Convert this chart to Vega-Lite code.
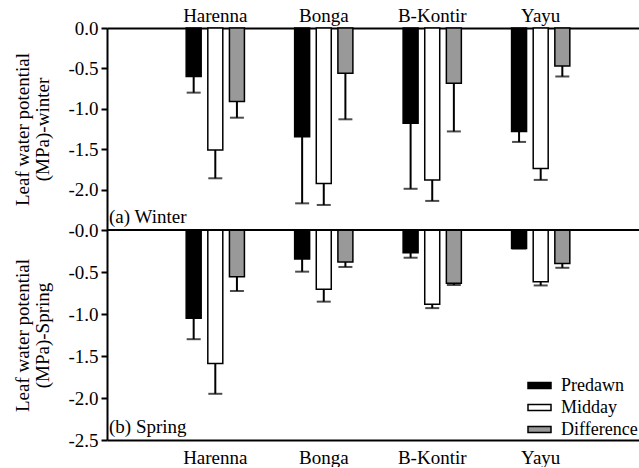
{
  "$schema": "https://vega.github.io/schema/vega-lite/v6.json",
  "padding": {"left": 13, "top": 6, "right": 0, "bottom": 0},
  "bounds": "flush",
  "spacing": 0,
  "config": {
    "font": "Liberation Serif, Times New Roman, serif",
    "view": {"stroke": null},
    "text": {"font": "Liberation Serif, Times New Roman, serif"},
    "axis": {
      "labelFont": "Liberation Serif, Times New Roman, serif", "labelFontSize": 19, "labelColor": "black",
      "titleFont": "Liberation Serif, Times New Roman, serif", "titleFontSize": 19, "titleFontWeight": "normal", "titleColor": "black",
      "domainColor": "black", "domainWidth": 2, "tickColor": "black", "tickWidth": 2, "tickSize": 6, "grid": false
    },
    "legend": {
      "labelFont": "Liberation Serif, Times New Roman, serif", "labelFontSize": 18, "labelColor": "black"
    }
  },
  "datasets": {
    "winter": [
      {"site": "Harenna", "type": "Predawn", "value": -0.60, "low": -0.80},
      {"site": "Harenna", "type": "Midday", "value": -1.51, "low": -1.86},
      {"site": "Harenna", "type": "Difference", "value": -0.91, "low": -1.11},
      {"site": "Bonga", "type": "Predawn", "value": -1.345, "low": -2.17},
      {"site": "Bonga", "type": "Midday", "value": -1.925, "low": -2.19},
      {"site": "Bonga", "type": "Difference", "value": -0.56, "low": -1.13},
      {"site": "B-Kontir", "type": "Predawn", "value": -1.18, "low": -1.99},
      {"site": "B-Kontir", "type": "Midday", "value": -1.88, "low": -2.14},
      {"site": "B-Kontir", "type": "Difference", "value": -0.685, "low": -1.28},
      {"site": "Yayu", "type": "Predawn", "value": -1.28, "low": -1.41},
      {"site": "Yayu", "type": "Midday", "value": -1.74, "low": -1.88},
      {"site": "Yayu", "type": "Difference", "value": -0.47, "low": -0.60}
    ],
    "spring": [
      {"site": "Harenna", "type": "Predawn", "value": -1.05, "low": -1.30},
      {"site": "Harenna", "type": "Midday", "value": -1.59, "low": -1.95},
      {"site": "Harenna", "type": "Difference", "value": -0.556, "low": -0.726},
      {"site": "Bonga", "type": "Predawn", "value": -0.345, "low": -0.496},
      {"site": "Bonga", "type": "Midday", "value": -0.706, "low": -0.853},
      {"site": "Bonga", "type": "Difference", "value": -0.38, "low": -0.44},
      {"site": "B-Kontir", "type": "Predawn", "value": -0.27, "low": -0.33},
      {"site": "B-Kontir", "type": "Midday", "value": -0.885, "low": -0.93},
      {"site": "B-Kontir", "type": "Difference", "value": -0.635, "low": -0.655},
      {"site": "Yayu", "type": "Predawn", "value": -0.22, "low": -0.22},
      {"site": "Yayu", "type": "Midday", "value": -0.615, "low": -0.66},
      {"site": "Yayu", "type": "Difference", "value": -0.40, "low": -0.45}
    ],
    "labels": [
      {"panel": "winter", "label": "(a) Winter"},
      {"panel": "spring", "label": "(b) Spring"}
    ]
  },
  "resolve": {"legend": {"fill": "independent"}},
  "vconcat": [
    {
      "width": 542,
      "height": 202,
      "layer": [
        {
          "data": {"name": "winter"},
          "encoding": {
            "x": {"field": "site", "type": "nominal", "sort": ["Harenna", "Bonga", "B-Kontir", "Yayu"],
                  "scale": {"paddingInner": 0.463, "paddingOuter": 0.73},
                  "axis": {"orient": "top", "title": null, "ticks": false, "labelAngle": 0, "labelPadding": 3}},
            "xOffset": {"field": "type", "type": "nominal", "sort": ["Predawn", "Midday", "Difference"],
                        "scale": {"paddingInner": 0.307, "paddingOuter": 0}}
          },
          "layer": [
            {
              "mark": {"type": "bar", "stroke": "black", "strokeWidth": 1.5},
              "encoding": {
                "y": {"field": "value", "type": "quantitative", "scale": {"domain": [-2.5, 0], "nice": false},
                      "axis": {"values": [0, -0.5, -1, -1.5, -2], "labelExpr": "datum.value == 0 ? '0.0' : '-' + format(-datum.value, '.1f')",
                               "title": ["Leaf water potential", "(MPa)-winter"], "titlePadding": 15, "labelPadding": 3, "titleLineHeight": 20}},
                "fill": {"field": "type", "type": "nominal", "scale": {"domain": ["Predawn", "Midday", "Difference"], "range": ["#000000", "#ffffff", "#999999"]}, "legend": null}
              }
            },
            {
              "mark": {"type": "rule", "strokeWidth": 2, "color": "black"},
              "encoding": {"y": {"field": "value", "type": "quantitative"}, "y2": {"field": "low"}}
            },
            {
              "mark": {"type": "tick", "orient": "horizontal", "size": 14, "thickness": 2, "color": "black"},
              "encoding": {"y": {"field": "low", "type": "quantitative"}}
            }
          ]
        },
        {
          "data": {"name": "labels"},
          "transform": [{"filter": "datum.panel == 'winter'"}],
          "mark": {"type": "text", "align": "left", "baseline": "bottom", "fontSize": 19, "dx": 2, "dy": -3, "color": "black"},
          "encoding": {
            "x": {"datum": 0, "type": "quantitative", "scale": {"domain": [0, 1]}, "axis": null},
            "y": {"datum": -2.5, "type": "quantitative"},
            "text": {"field": "label"}
          }
        }
      ],
      "resolve": {"scale": {"x": "independent"}}
    },
    {
      "width": 542,
      "height": 210,
      "layer": [
        {
          "data": {"name": "spring"},
          "encoding": {
            "x": {"field": "site", "type": "nominal", "sort": ["Harenna", "Bonga", "B-Kontir", "Yayu"],
                  "scale": {"paddingInner": 0.463, "paddingOuter": 0.73},
                  "axis": {"orient": "bottom", "title": null, "ticks": false, "labelAngle": 0, "labelPadding": 8}},
            "xOffset": {"field": "type", "type": "nominal", "sort": ["Predawn", "Midday", "Difference"],
                        "scale": {"paddingInner": 0.307, "paddingOuter": 0}}
          },
          "layer": [
            {
              "mark": {"type": "bar", "stroke": "black", "strokeWidth": 1.5},
              "encoding": {
                "y": {"field": "value", "type": "quantitative", "scale": {"domain": [-2.5, 0], "nice": false},
                      "axis": {"values": [0, -0.5, -1, -1.5, -2, -2.5], "labelExpr": "'-' + format(abs(datum.value), '.1f')",
                               "title": ["Leaf water potential", "(MPa)-Spring"], "titlePadding": 15, "labelPadding": 3, "titleLineHeight": 20}},
                "fill": {"field": "type", "type": "nominal", "scale": {"domain": ["Predawn", "Midday", "Difference"], "range": ["#000000", "#ffffff", "#999999"]},
                         "legend": {"orient": "none", "legendX": 420, "legendY": 143, "title": null,
                                    "symbolType": "M-1,-0.26L1,-0.26L1,0.26L-1,0.26Z", "symbolSize": 529,
                                    "symbolStrokeColor": "black", "symbolStrokeWidth": 1.5, "rowPadding": -1, "labelOffset": 9, "padding": 0}}
              }
            },
            {
              "mark": {"type": "rule", "strokeWidth": 2, "color": "black"},
              "encoding": {"y": {"field": "value", "type": "quantitative"}, "y2": {"field": "low"}}
            },
            {
              "mark": {"type": "tick", "orient": "horizontal", "size": 14, "thickness": 2, "color": "black"},
              "encoding": {"y": {"field": "low", "type": "quantitative"}}
            },
            {
              "mark": {"type": "rule", "strokeWidth": 2, "color": "black"},
              "encoding": {"y": {"datum": 0, "type": "quantitative"}, "x": null, "xOffset": null}
            }
          ]
        },
        {
          "data": {"name": "labels"},
          "transform": [{"filter": "datum.panel == 'spring'"}],
          "mark": {"type": "text", "align": "left", "baseline": "bottom", "fontSize": 19, "dx": 2, "dy": -3, "color": "black"},
          "encoding": {
            "x": {"datum": 0, "type": "quantitative", "scale": {"domain": [0, 1]}, "axis": null},
            "y": {"datum": -2.5, "type": "quantitative"},
            "text": {"field": "label"}
          }
        }
      ],
      "resolve": {"scale": {"x": "independent"}}
    }
  ]
}
